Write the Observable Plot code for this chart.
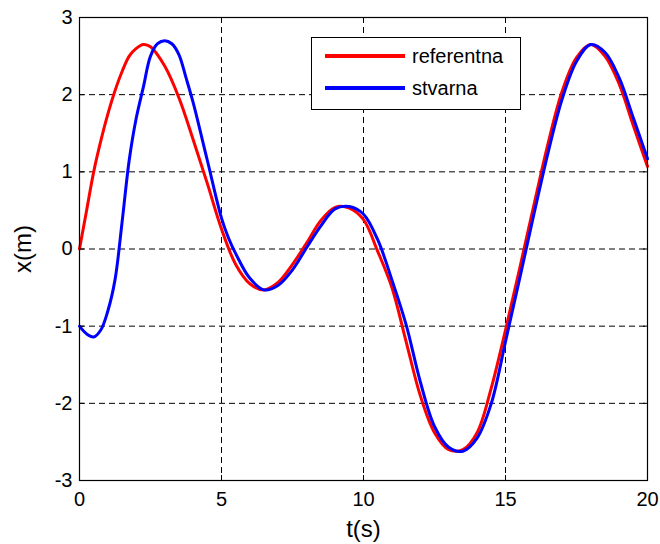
<!DOCTYPE html>
<html>
<head>
<meta charset="utf-8">
<script src="https://cdn.jsdelivr.net/npm/d3@7"></script>
<script src="https://cdn.jsdelivr.net/npm/@observablehq/plot@0.6"></script>
<style>
  body { margin: 0; background: #fff; }
  #wrap { position: relative; width: 660px; height: 544px; font-family: "Liberation Sans", Arial, sans-serif; }
  #legend { position: absolute; left: 311px; top: 37px; width: 208px; height: 71px; border: 1px solid #000; background: #fff; box-sizing: content-box; }
  .row { position: absolute; left: 0; display: flex; align-items: center; font-size: 20px; color: #000; }
  .row svg { margin-left: 13px; margin-right: 7px; }
</style>
</head>
<body>
<div id="wrap"></div>
<script>
const seriesNames = ["referentna", "stvarna"];
const seriesColors = ["#ff0000", "#0000ff"];

const tRef = [0, 0.25, 0.5, 0.75, 1.0, 1.25, 1.5, 1.75, 2.0, 2.25, 2.5, 3.0, 3.5, 4.0, 4.5, 5.0, 5.5, 6.0, 6.5, 7.0, 7.5, 8.0, 8.5, 9.0, 9.5, 10.0, 10.5, 11.0, 11.5, 12.0, 12.5, 13.0, 13.5, 14.0, 14.5, 15.0, 15.5, 16.0, 16.5, 17.0, 17.5, 18.0, 18.5, 19.0, 19.5, 20.0];
const xRef = [0, 0.5, 1.0, 1.4, 1.75, 2.05, 2.3, 2.5, 2.6, 2.65, 2.62, 2.37, 1.96, 1.42, 0.85, 0.26, -0.2, -0.45, -0.53, -0.43, -0.2, 0.08, 0.37, 0.54, 0.53, 0.38, -0.03, -0.5, -1.2, -1.9, -2.38, -2.6, -2.6, -2.38, -1.8, -1.05, -0.25, 0.57, 1.37, 2.05, 2.48, 2.65, 2.5, 2.14, 1.6, 1.07];

const tAct = [0, 0.25, 0.5, 0.75, 1.0, 1.25, 1.5, 1.75, 2.0, 2.25, 2.5, 2.75, 3.0, 3.25, 3.5, 3.75, 4.0, 4.5, 5.0, 5.25, 5.5, 6.0, 6.5, 7.0, 7.5, 8.0, 8.5, 9.0, 9.5, 10.0, 10.5, 11.0, 11.5, 12.0, 12.5, 13.0, 13.5, 14.0, 14.5, 15.0, 15.5, 16.0, 16.5, 17.0, 17.5, 18.0, 18.5, 19.0, 19.5, 20.0];
const xAct = [-1.0, -1.1, -1.14, -1.05, -0.8, -0.4, 0.35, 1.15, 1.7, 2.1, 2.5, 2.66, 2.7, 2.66, 2.52, 2.22, 1.9, 1.15, 0.4, 0.14, -0.06, -0.38, -0.53, -0.47, -0.27, 0.02, 0.3, 0.52, 0.55, 0.45, 0.12, -0.4, -0.98, -1.72, -2.3, -2.57, -2.62, -2.45, -2.0, -1.2, -0.38, 0.45, 1.25, 1.95, 2.43, 2.65, 2.55, 2.22, 1.7, 1.17];

const xTicks = [0, 5, 10, 15, 20];
const yTicks = [-3, -2, -1, 0, 1, 2, 3];
const xLabel = "t(s)";
const yLabel = "x(m)";

const ref = tRef.map((t, i) => ({t, x: xRef[i]}));
const act = tAct.map((t, i) => ({t, x: xAct[i]}));
const fmt = d => String(d);

const chart = Plot.plot({
  width: 660,
  height: 544,
  marginLeft: 79,
  marginRight: 13,
  marginTop: 17,
  marginBottom: 64,
  style: {fontFamily: "'Liberation Sans', Arial, sans-serif", fontSize: "20px", color: "#000", background: "#fff"},
  x: {domain: [0, 20], ticks: xTicks},
  y: {domain: [-3, 3], ticks: yTicks},
  marks: [
    Plot.gridX(xTicks, {stroke: "#000", strokeOpacity: 1, strokeDasharray: "6,4"}),
    Plot.gridY(yTicks, {stroke: "#000", strokeOpacity: 1, strokeDasharray: "6,4"}),
    Plot.line(ref, {x: "t", y: "x", stroke: seriesColors[0], strokeWidth: 3, curve: "catmull-rom"}),
    Plot.line(act, {x: "t", y: "x", stroke: seriesColors[1], strokeWidth: 3, curve: "catmull-rom"}),
    Plot.frame({stroke: "#000", strokeWidth: 1.2}),
    Plot.axisX(xTicks, {anchor: "bottom", tickSize: 0, tickPadding: 11, fontSize: 20, tickFormat: fmt, label: null}),
    Plot.axisY(yTicks, {anchor: "left", tickSize: 0, tickPadding: 7, fontSize: 20, tickFormat: fmt, label: null}),
    Plot.axisX([], {anchor: "bottom", tickSize: 0, fontSize: 24, label: xLabel, labelAnchor: "center", labelOffset: 56, labelArrow: "none"}),
    Plot.axisY([], {anchor: "left", tickSize: 0, fontSize: 24, label: yLabel, labelAnchor: "center", labelOffset: 66, labelArrow: "none"}),
    Plot.axisX(xTicks, {anchor: "bottom", tickSize: -5, tickFormat: () => "", label: null}),
    Plot.axisX(xTicks, {anchor: "top", tickSize: -5, tickFormat: () => "", label: null}),
    Plot.axisY(yTicks, {anchor: "left", tickSize: -5, tickFormat: () => "", label: null}),
    Plot.axisY(yTicks, {anchor: "right", tickSize: -5, tickFormat: () => "", label: null})
  ]
});

const wrap = document.getElementById("wrap");
wrap.appendChild(chart);

const legend = document.createElement("div");
legend.id = "legend";
seriesNames.forEach((name, i) => {
  const row = document.createElement("div");
  row.className = "row";
  row.style.top = (i === 0 ? 3 : 35) + "px";
  row.style.height = "30px";
  row.innerHTML = `<svg width="80" height="6"><line x1="0" y1="3" x2="80" y2="3" stroke="${seriesColors[i]}" stroke-width="4"/></svg><span>${name}</span>`;
  legend.appendChild(row);
});
wrap.appendChild(legend);
</script>
</body>
</html>
